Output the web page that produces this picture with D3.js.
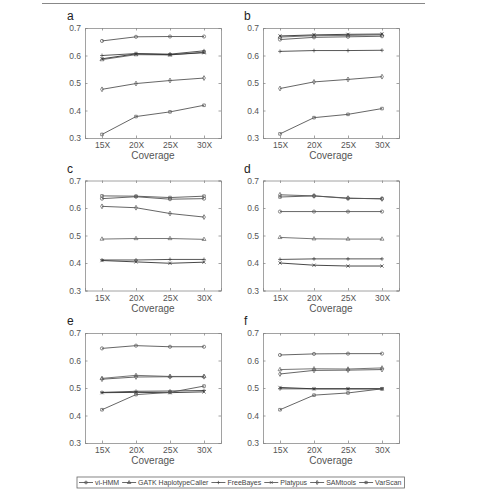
<!DOCTYPE html>
<html><head><meta charset="utf-8">
<script src="https://cdn.jsdelivr.net/npm/d3@7"></script>
<style>body{margin:0;background:#fff;}svg{display:block;font-family:"Liberation Sans",Arial,sans-serif;}</style>
</head><body><svg id="c" width="477" height="493"></svg>
<script>
// ---- data ----
const coverage = [15, 20, 25, 30];
const coverageLabels = ["15X", "20X", "25X", "30X"];
const methods = ["vi-HMM", "GATK HaplotypeCaller", "FreeBayes", "Platypus", "SAMtools", "VarScan"];
const markers = ["circle", "triangle", "plus", "x", "diamond", "square"];
const yTicks = [0.3, 0.4, 0.5, 0.6, 0.7];
const panelLabels = ["a", "b", "c", "d", "e", "f"];
// values per panel, in methods order
const panelA = [
  [0.653, 0.668, 0.669, 0.669],
  [0.585, 0.603, 0.602, 0.612],
  [0.600, 0.607, 0.605, 0.617],
  [0.588, 0.606, 0.603, 0.610],
  [0.477, 0.498, 0.509, 0.518],
  [0.313, 0.378, 0.395, 0.419]
];
const panelB = [
  [0.658, 0.666, 0.668, 0.670],
  [0.667, 0.672, 0.673, 0.675],
  [0.615, 0.618, 0.618, 0.619],
  [0.671, 0.675, 0.677, 0.678],
  [0.480, 0.504, 0.513, 0.523],
  [0.315, 0.374, 0.386, 0.407]
];
const panelC = [
  [0.634, 0.641, 0.632, 0.634],
  [0.487, 0.489, 0.489, 0.486],
  [0.411, 0.411, 0.413, 0.413],
  [0.409, 0.404, 0.399, 0.403],
  [0.606, 0.601, 0.580, 0.567],
  [0.644, 0.643, 0.638, 0.643]
];
const panelD = [
  [0.587, 0.587, 0.587, 0.587],
  [0.493, 0.488, 0.487, 0.487],
  [0.413, 0.415, 0.415, 0.415],
  [0.400, 0.392, 0.389, 0.389],
  [0.648, 0.644, 0.636, 0.633],
  [0.640, 0.644, 0.635, 0.634]
];
const panelE = [
  [0.644, 0.654, 0.650, 0.650],
  [0.535, 0.546, 0.542, 0.542],
  [0.484, 0.488, 0.489, 0.491],
  [0.483, 0.484, 0.483, 0.486],
  [0.532, 0.540, 0.541, 0.541],
  [0.421, 0.476, 0.484, 0.507]
];
const panelF = [
  [0.620, 0.624, 0.625, 0.625],
  [0.567, 0.570, 0.569, 0.573],
  [0.497, 0.497, 0.497, 0.497],
  [0.502, 0.497, 0.497, 0.497],
  [0.551, 0.564, 0.565, 0.567],
  [0.421, 0.474, 0.482, 0.497]
];
const panels = [panelA, panelB, panelC, panelD, panelE, panelF];
const lineColors = ["#555", "#666", "#444", "#333", "#555", "#555"];

// ---- layout ----
const svg = d3.select("#c");
const colX = [85, 263], boxW = 136;
const rowY = [28, 180.5, 333], boxH = 110;

svg.append("line").attr("x1", 42).attr("x2", 425).attr("y1", 3.5).attr("y2", 3.5)
  .attr("stroke", "#888").attr("stroke-width", 1);

function markerPath(type, s) {
  switch (type) {
    case "circle": return d3.symbol(d3.symbolCircle, s * s * 3.1)();
    case "triangle": return d3.symbol(d3.symbolTriangle, s * s * 2.6)();
    case "diamond": return d3.symbol(d3.symbolDiamond, s * s * 2.6)();
    case "square": return d3.symbol(d3.symbolSquare, s * s * 2.6)();
    case "plus": return `M${-s * 1.2},0H${s * 1.2}M0,${-s * 1.2}V${s * 1.2}`;
    case "x": return `M${-s},${-s}L${s},${s}M${-s},${s}L${s},${-s}`;
  }
}

panels.forEach((data, pi) => {
  const x0 = colX[pi % 2], y0 = rowY[Math.floor(pi / 2)];
  const g = svg.append("g").attr("transform", `translate(${x0},${y0})`);
  const x = d3.scaleLinear().domain([12.5, 32.5]).range([0, boxW]);
  const y = d3.scaleLinear().domain([0.3, 0.7]).range([boxH, 0]);

  // axes
  const ax = g.append("g").attr("transform", `translate(0,${boxH})`)
    .call(d3.axisBottom(x).tickValues(coverage).tickFormat((d, i) => coverageLabels[i]).tickSize(-2.5).tickPadding(4));
  const axt = g.append("g")
    .call(d3.axisTop(x).tickValues(coverage).tickFormat("").tickSize(-2.5));
  const ay = g.append("g")
    .call(d3.axisLeft(y).tickValues(yTicks).tickFormat(d3.format(".1f")).tickSize(-2.5).tickPadding(4));
  const ayr = g.append("g").attr("transform", `translate(${boxW},0)`)
    .call(d3.axisRight(y).tickValues(yTicks).tickFormat("").tickSize(-2.5));
  [ax, axt, ay, ayr].forEach(a => {
    a.select(".domain").attr("stroke", "#8a8a8a").attr("stroke-width", 0.8);
    a.selectAll(".tick line").attr("stroke", "#8a8a8a").attr("stroke-width", 0.8);
    a.selectAll("text").attr("fill", "#555").attr("font-size", 8.5).attr("font-family", "Liberation Sans, Arial, sans-serif");
  });
  ax.selectAll("text").attr("dy", "0.75em");

  // series
  const line = d3.line().x((d, i) => x(coverage[i])).y(d => y(d));
  data.forEach((vals, si) => {
    g.append("path").datum(vals).attr("d", line).attr("fill", "none")
      .attr("stroke", lineColors[si]).attr("stroke-width", 0.9);
    g.selectAll(null).data(vals).enter().append("path")
      .attr("transform", (d, i) => `translate(${x(coverage[i])},${y(d)})`)
      .attr("d", markerPath(markers[si], 1.6))
      .attr("fill", "none").attr("stroke", lineColors[si]).attr("stroke-width", 0.7);
  });

  // labels
  g.append("text").attr("x", boxW / 2).attr("y", boxH + 21).attr("text-anchor", "middle")
    .attr("font-size", 10).attr("fill", "#555").text("Coverage");
  g.append("text").attr("x", pi % 2 ? -19 : -18).attr("y", -8).attr("font-size", 12)
    .attr("fill", "#222").text(panelLabels[pi]);
});

// ---- legend ----
const leg = svg.append("g");
const legY = 482.5;
let cx = 79;
methods.forEach((m, i) => {
  leg.append("line").attr("x1", cx).attr("x2", cx + 14).attr("y1", legY).attr("y2", legY)
    .attr("stroke", "#444").attr("stroke-width", 0.8);
  leg.append("path").attr("transform", `translate(${cx + 7},${legY})`)
    .attr("d", markerPath(markers[i], 1.4)).attr("fill", "none").attr("stroke", "#444").attr("stroke-width", 0.7);
  const t = leg.append("text").attr("x", cx + 16).attr("y", legY + 2.5).attr("font-size", 7)
    .attr("fill", "#444").text(m);
  cx += 16 + t.node().getComputedTextLength() + 3;
});
leg.insert("rect", ":first-child").attr("x", 77).attr("y", 477).attr("width", cx - 77).attr("height", 11)
  .attr("fill", "#fff").attr("stroke", "#666").attr("stroke-width", 0.8);
</script></body></html>
